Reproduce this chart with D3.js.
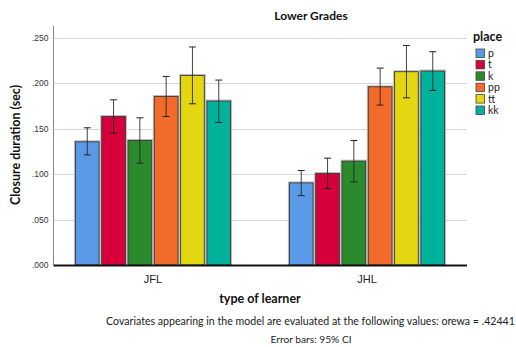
<!DOCTYPE html>
<html>
<head>
<meta charset="utf-8">
<script src="https://cdn.jsdelivr.net/npm/d3@7"></script>
<style>
  html, body { margin: 0; padding: 0; background: #fff; }
  svg { display: block; font-family: "Lato", "Open Sans", sans-serif; }
</style>
</head>
<body>
<svg id="chart" width="516" height="347"></svg>
<script>
// Learner groups and places of articulation
const learners = ["JFL", "JHL"];
const places = ["p", "t", "k", "pp", "tt", "kk"];
const placeColors = ["#5a99e6", "#d6003a", "#2b8a2b", "#f26b2b", "#e4d611", "#00b19c"];

// Mean closure duration (sec), one array per learner group, ordered as places
const meanJFL = [0.1355, 0.1633, 0.1369, 0.1854, 0.2085, 0.1803];
const meanJHL = [0.0903, 0.1006, 0.1142, 0.1960, 0.2126, 0.2133];
// 95% CI bounds
const lowJFL  = [0.1211, 0.1450, 0.1120, 0.1633, 0.1773, 0.1567];
const highJFL = [0.1509, 0.1817, 0.1619, 0.2074, 0.2398, 0.2034];
const lowJHL  = [0.0763, 0.0840, 0.0914, 0.1759, 0.1839, 0.1920];
const highJHL = [0.1039, 0.1175, 0.1369, 0.2166, 0.2415, 0.2346];

const yTicks = [0, 0.05, 0.10, 0.15, 0.20, 0.25];

const rows = [];
learners.forEach((g, gi) => {
  const m = gi === 0 ? meanJFL : meanJHL;
  const lo = gi === 0 ? lowJFL : lowJHL;
  const hi = gi === 0 ? highJFL : highJHL;
  places.forEach((p, i) => rows.push({ group: g, place: p, mean: m[i], low: lo[i], high: hi[i] }));
});

const svg = d3.select("#chart");
const plot = { left: 53.5, right: 466.5, top: 26, bottom: 265 };

const x0 = d3.scaleBand().domain(learners).range([plot.left, plot.right])
  .paddingInner(0.27).paddingOuter(0.1);
const x1 = d3.scaleBand().domain(places).range([0, x0.bandwidth()]).paddingInner(0.1).paddingOuter(0.02);
const y = d3.scaleLinear().domain([0, 0.25]).range([plot.bottom, 37.7]);
const color = d3.scaleOrdinal().domain(places).range(placeColors);

// Horizontal gridlines
svg.append("g").selectAll("line").data(yTicks.slice(1)).join("line")
  .attr("x1", plot.left).attr("x2", plot.right)
  .attr("y1", d => Math.round(y(d)) + 0.5).attr("y2", d => Math.round(y(d)) + 0.5)
  .attr("stroke", "#d6d6d6").attr("stroke-width", 1);

// Y axis
const yAxis = d3.axisLeft(y).tickValues(yTicks).tickSize(0).tickPadding(5)
  .tickFormat(d => d3.format(".3f")(d).replace(/^0/, ""));
const yg = svg.append("g").attr("transform", `translate(${plot.left},0)`).call(yAxis);
yg.select(".domain").remove();
yg.selectAll("text").attr("font-size", 8.5).attr("fill", "#333").attr("dy", "0.32em");
svg.append("line").attr("x1", plot.left).attr("x2", plot.left)
  .attr("y1", plot.top).attr("y2", plot.bottom).attr("stroke", "#8a8a8a").attr("stroke-width", 1);

// Bars
const bars = svg.append("g").selectAll("g").data(rows).join("g")
  .attr("transform", d => `translate(${x0(d.group) + x1(d.place)},0)`);
bars.append("rect")
  .attr("x", -0.5).attr("y", d => y(d.mean) - 0.5)
  .attr("width", x1.bandwidth() + 1).attr("height", d => plot.bottom - y(d.mean) + 0.5)
  .attr("fill", "none").attr("stroke", "#bdbdbd").attr("stroke-width", 2);
bars.append("rect")
  .attr("x", 0).attr("y", d => y(d.mean))
  .attr("width", x1.bandwidth()).attr("height", d => plot.bottom - y(d.mean))
  .attr("fill", d => color(d.place)).attr("stroke", "#3a3a3a").attr("stroke-width", 0.9);

// 95% CI error bars
const cap = 3.5;
const eb = bars.append("g").attr("stroke", "#222").attr("stroke-width", 1)
  .attr("transform", `translate(${x1.bandwidth() / 2},0)`);
eb.append("line").attr("x1", 0).attr("x2", 0).attr("y1", d => y(d.high)).attr("y2", d => y(d.low)).attr("stroke-opacity", 0.85);
eb.append("line").attr("x1", -cap).attr("x2", cap).attr("y1", d => y(d.high)).attr("y2", d => y(d.high));
eb.append("line").attr("x1", -cap).attr("x2", cap).attr("y1", d => y(d.low)).attr("y2", d => y(d.low));

// X axis baseline and category labels
svg.append("line").attr("x1", plot.left).attr("x2", plot.right + 0.5)
  .attr("y1", plot.bottom + 0.5).attr("y2", plot.bottom + 0.5).attr("stroke", "#111").attr("stroke-width", 2);
const xAxis = d3.axisBottom(x0).tickSize(0).tickPadding(10);
const xg = svg.append("g").attr("transform", `translate(0,${plot.bottom})`).call(xAxis);
xg.select(".domain").remove();
xg.selectAll("text").attr("font-size", 11).attr("fill", "#222");

// Titles
svg.append("text").attr("x", 311).attr("y", 20).attr("text-anchor", "middle")
  .attr("font-size", 12).attr("font-weight", "bold").attr("fill", "#111").text("Lower Grades");
svg.append("text").attr("transform", "translate(20,145) rotate(-90)").attr("text-anchor", "middle")
  .attr("font-size", 12.5).attr("font-weight", "bold").attr("fill", "#111").text("Closure duration (sec)");
svg.append("text").attr("x", 260).attr("y", 303).attr("text-anchor", "middle")
  .attr("font-size", 12.5).attr("font-weight", "bold").attr("fill", "#111").text("type of learner");
svg.append("text").attr("x", 310.5).attr("y", 325).attr("text-anchor", "middle")
  .attr("font-size", 10.6).attr("fill", "#222")
  .text("Covariates appearing in the model are evaluated at the following values: orewa = .42441");
svg.append("text").attr("x", 311).attr("y", 343).attr("text-anchor", "middle")
  .attr("font-size", 10.2).attr("fill", "#222").text("Error bars: 95% CI");

// Legend
const legend = svg.append("g").attr("transform", "translate(473,0)");
legend.append("text").attr("x", 0).attr("y", 41).attr("font-size", 12.5).attr("font-weight", "bold")
  .attr("fill", "#111").text("place");
const li = legend.selectAll("g.item").data(places).join("g").attr("class", "item")
  .attr("transform", (d, i) => `translate(3,${49 + i * 11.4})`);
li.append("rect").attr("width", 8.5).attr("height", 8.5)
  .attr("fill", d => color(d)).attr("stroke", "#444").attr("stroke-width", 0.8);
li.append("text").attr("x", 12).attr("y", 8).attr("font-size", 10.5).attr("fill", "#222").text(d => d);
</script>
</body>
</html>
